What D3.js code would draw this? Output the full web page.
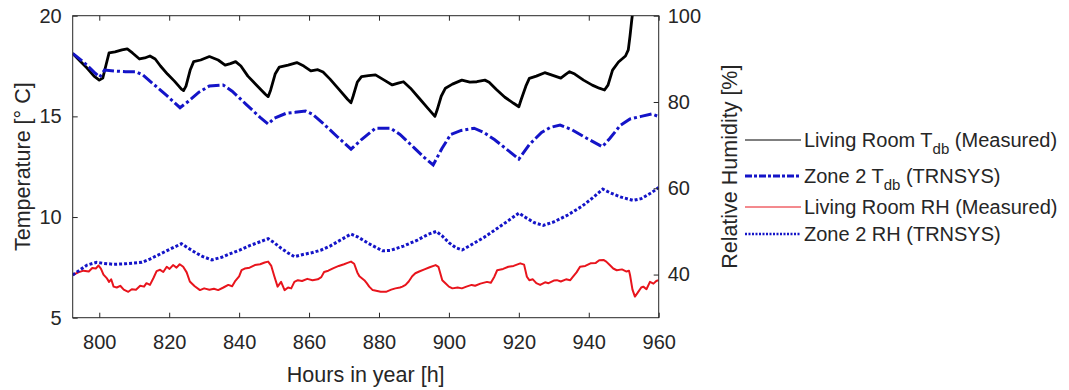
<!DOCTYPE html>
<html>
<head>
<meta charset="utf-8">
<script src="https://cdn.jsdelivr.net/npm/d3@7"></script>
<style>
  body { margin: 0; background: #fff; }
  text { font-family: "Liberation Sans", Arial, sans-serif; fill: #262626; }
</style>
</head>
<body>
<script>
// hours in year / value pairs
const livingRoomT = [
  [792.4,18.13],[794.5,17.75],[796.5,17.4],[798.5,17.0],[800,16.8],[801,16.9],[802,17.6],[802.8,18.15],
  [804.5,18.2],[806.5,18.3],[808,18.35],[809.5,18.15],[811.5,17.85],[813,17.9],[814.5,18.0],[816,17.85],
  [817.5,17.5],[819.5,17.1],[821.5,16.75],[823.5,16.35],[824.1,16.28],[824.8,16.5],[826,17.3],[827,17.72],
  [829,17.8],[831.5,17.97],[834,17.8],[836,17.55],[837.5,17.62],[839,17.72],[840.5,17.5],[842.5,17.0],
  [845,16.55],[847.5,16.1],[848.3,15.98],[849,16.3],[850.3,17.1],[851.5,17.45],[854,17.55],[856.5,17.67],
  [858.5,17.5],[860.5,17.26],[862.5,17.32],[864,17.2],[866,16.85],[868.5,16.35],[871,15.85],[872,15.68],
  [872.6,16.0],[873.8,16.7],[875,16.97],[877,17.02],[879,17.06],[881.5,16.8],[883.8,16.56],[885.5,16.65],
  [887,16.72],[889,16.4],[891.5,15.9],[894,15.4],[896,15.0],[896.6,15.3],[897.8,16.0],[899,16.4],
  [901,16.6],[903.7,16.8],[906,16.7],[908,16.72],[910.3,16.8],[911.5,16.7],[913.5,16.35],[916,15.95],
  [918.5,15.65],[920,15.48],[920.6,15.8],[922,16.5],[923,16.89],[925,17.0],[927.4,17.17],[929.5,17.05],
  [932,16.9],[933.5,17.1],[934.5,17.22],[936,17.1],[938.5,16.8],[941,16.55],[943,16.4],[944.5,16.31],
  [945.5,16.55],[946.8,17.3],[948.5,17.7],[950.5,18.0],[951.3,18.3],[951.8,19.0],[952.3,19.8],[952.8,20.5],
  [953.2,21.5]
];

const zone2T = [
  [792.4,18.13],[795.5,17.7],[798.5,17.2],[800.1,16.95],[801.5,17.3],[804.5,17.25],[807.5,17.22],[810.5,17.22],
  [812.5,17.05],[815.5,16.6],[819.5,16.0],[823.1,15.43],[825.5,15.75],[828.5,16.2],[831.5,16.51],[835.4,16.56],
  [838,16.25],[842,15.6],[846,14.95],[848.3,14.62],[850,14.9],[853.4,15.15],[856,15.2],[859,15.27],
  [861,15.1],[864,14.65],[868,14.0],[872,13.37],[875,13.85],[879,14.41],[883.3,14.41],[886,14.1],
  [890,13.45],[893,12.95],[895.5,12.59],[898,13.4],[900.5,14.1],[903.5,14.3],[907.2,14.41],[910,14.2],
  [913,13.85],[917,13.3],[920,12.88],[923,13.6],[926.5,14.2],[929,14.45],[931.8,14.57],[935,14.35],
  [939,13.95],[943.9,13.49],[946,13.9],[949,14.55],[951.8,14.87],[955,15.0],[958,15.12],[960,14.99]
];

const livingRoomRH = [
  [792.4,39.9],[794,40.5],[795.5,40.9],[797,40.7],[798,41.5],[799,41.4],[799.8,42.1],[800.5,41.3],
  [801.2,40.0],[802.2,39.1],[802.8,38.3],[803.4,38.9],[804.1,37.2],[805,37.0],[806,37.4],[807,36.5],
  [808.3,36.0],[809.3,36.6],[810.5,36.5],[811.7,37.4],[812.8,37.2],[813.5,38.0],[814.5,37.6],[815.5,39.2],
  [816.4,40.8],[817.4,41.1],[818.3,40.6],[819.3,41.8],[820.1,41.3],[821.1,42.2],[822.1,41.6],[823,42.4],
  [824,41.8],[825,40.5],[825.9,38.4],[826.4,38.0],[827.3,37.3],[828.8,36.4],[830,36.8],[831.5,36.5],
  [832.8,36.7],[834,36.4],[835.5,37.0],[836.9,37.6],[838,37.3],[838.8,38.4],[840,39.6],[840.7,41.0],
  [841.6,41.4],[843,41.6],[844.5,42.2],[846,42.4],[847.3,42.8],[848.3,43.0],[849.2,42.0],[850,39.8],
  [851,37.2],[852,38.3],[853,36.4],[854,37.0],[854.9,36.8],[855.8,38.3],[856.8,38.7],[858,38.5],
  [859.5,39.0],[861,38.7],[862.5,38.9],[863.5,39.4],[864.3,40.6],[865.5,40.9],[867,41.5],[868.5,42.0],
  [870,42.4],[871,42.7],[872,43.0],[872.9,42.5],[873.8,40.5],[874.4,39.6],[875.8,38.7],[876.5,38.0],
  [877.2,37.2],[878.2,36.4],[879.5,36.2],[880.5,36.0],[882,36.0],[883.5,36.5],[884.7,36.8],[886,37.0],
  [886.7,37.2],[887.6,37.6],[888.5,38.4],[889.5,39.6],[890.4,40.3],[891.5,40.7],[893,41.2],[894.5,41.7],
  [896.2,42.2],[897,41.8],[898.1,38.7],[899,38.0],[900,37.2],[901,36.8],[902.5,37.0],[903.7,36.8],
  [905,37.2],[906.5,37.6],[907.5,37.4],[909,37.9],[910.9,38.3],[912,38.1],[913,39.5],[913.8,41.0],
  [915.5,41.3],[917,41.8],[918.5,42.0],[920.4,42.6],[921.5,42.3],[922.3,39.5],[923,38.7],[924,38.9],
  [925,38.0],[926.1,37.6],[927.5,38.2],[928.5,38.0],[930,38.6],[930.9,38.7],[932,38.4],[933.5,38.9],
  [934.7,38.7],[935.5,39.5],[936.5,40.5],[937.5,41.8],[939,42.0],[940.5,42.6],[942,42.7],[943,43.3],
  [944.2,43.4],[945,43.0],[946,42.2],[947,41.4],[948,41.0],[949.5,41.2],[950.8,40.7],[951.5,40.9],
  [951.8,39.9],[952.5,36.5],[953.2,34.9],[954,35.8],[955,37.0],[955.6,37.2],[956.5,36.6],[957.5,38.3],
  [958.5,37.9],[959.3,38.5],[960,38.7]
];

const zone2RH = [
  [792.4,39.9],[794.5,41.1],[796.5,42.2],[799.3,42.84],[801.2,42.6],[804.1,42.38],[807.5,42.5],[812.2,42.84],
  [814.5,43.6],[817.5,44.8],[820.5,46.0],[823.5,47.15],[825.5,46.1],[827.5,45.1],[829.5,44.2],[832.2,43.4],
  [835,44.0],[837,44.7],[840,45.6],[843,46.7],[846,47.6],[848.3,48.3],[850,47.4],[852,46.1],
  [854,45.0],[855.8,44.14],[858,44.6],[861,45.1],[863.5,45.7],[866,46.6],[869,48.0],[872,49.4],
  [874,48.7],[877,47.2],[881,45.5],[883.3,45.6],[887,46.6],[891,48.0],[894,49.3],[896.4,50.0],
  [898,49.0],[900,47.4],[902,46.2],[903.8,45.7],[906,46.7],[910,48.6],[914,50.8],[917,52.5],
  [920,54.25],[922,53.2],[924.5,52.0],[927,51.4],[930,52.2],[934,53.8],[938,55.8],[941,57.7],
  [944,59.8],[946,59.0],[949,58.0],[952.7,57.2],[955,57.6],[958,59.0],[960,60.2]
];

const xTicks = [800, 820, 840, 860, 880, 900, 920, 940, 960];
const tTicks = [5, 10, 15, 20];
const rhTicks = [40, 60, 80, 100];

const legendItems = [
  { label: ["Living Room T", "db", " (Measured)"], color: "#000000", width: 1, dash: null },
  { label: ["Zone 2 T", "db", " (TRNSYS)"], color: "#1414c8", width: 3, dash: "7,2,3,2" },
  { label: ["Living Room RH (Measured)"], color: "#e8141c", width: 1, dash: null },
  { label: ["Zone 2 RH (TRNSYS)"], color: "#1414c8", width: 2.5, dash: "2,1.5" }
];

const w = 1069;
const h = 390;
const mLeft = 72.7, mRight = 658.7, mTop = 15.7, mBottom = 317.7;

const x = d3.scaleLinear().domain([792.4, 960]).range([mLeft, mRight]);
const yT = d3.scaleLinear().domain([5, 20]).range([mBottom, mTop]);
const yRH = d3.scaleLinear().domain([30, 100]).range([mBottom, mTop]);

const svg = d3.select("body")
  .append("svg")
  .attr("width", w)
  .attr("height", h);

svg.append("rect").attr("width", w).attr("height", h).attr("fill", "#fff");

svg.append("clipPath")
  .attr("id", "plot")
  .append("rect")
  .attr("x", mLeft).attr("y", mTop)
  .attr("width", mRight - mLeft).attr("height", mBottom - mTop);

const plot = svg.append("g").attr("clip-path", "url(#plot)");

const lineT = d3.line().x(d => x(d[0])).y(d => yT(d[1]));
const lineRH = d3.line().x(d => x(d[0])).y(d => yRH(d[1]));

plot.append("path")
  .attr("d", lineT(livingRoomT))
  .attr("fill", "none").attr("stroke", "#000").attr("stroke-width", 2.8)
  .attr("stroke-linejoin", "round");

plot.append("path")
  .attr("d", lineT(zone2T))
  .attr("fill", "none").attr("stroke", "#1414c8").attr("stroke-width", 3)
  .attr("stroke-dasharray", "12,3,3,3");

plot.append("path")
  .attr("d", lineRH(livingRoomRH))
  .attr("fill", "none").attr("stroke", "#e8141c").attr("stroke-width", 2)
  .attr("stroke-linejoin", "round");

plot.append("path")
  .attr("d", lineRH(zone2RH))
  .attr("fill", "none").attr("stroke", "#1414c8").attr("stroke-width", 3)
  .attr("stroke-dasharray", "3,2");

// axes, MATLAB style: ticks pointing inside
const axisColor = "#262626";
const tickLen = 5;

const bottomAxis = svg.append("g")
  .attr("transform", `translate(0,${mBottom})`)
  .call(d3.axisBottom(x).tickValues(xTicks).tickSizeInner(-tickLen).tickSizeOuter(0).tickPadding(17));
const topAxis = svg.append("g")
  .attr("transform", `translate(0,${mTop})`)
  .call(d3.axisTop(x).tickValues(xTicks).tickSizeInner(-tickLen).tickSizeOuter(0).tickFormat(""));
const leftAxis = svg.append("g")
  .attr("transform", `translate(${mLeft},0)`)
  .call(d3.axisLeft(yT).tickValues(tTicks).tickSizeInner(-tickLen).tickSizeOuter(0).tickPadding(11));
const rightAxis = svg.append("g")
  .attr("transform", `translate(${mRight},0)`)
  .call(d3.axisRight(yRH).tickValues(rhTicks).tickSizeInner(-tickLen).tickSizeOuter(0).tickPadding(9));

[bottomAxis, topAxis, leftAxis, rightAxis].forEach(g => {
  g.select(".domain").remove();
  g.selectAll(".tick line").attr("stroke", axisColor);
  g.selectAll(".tick text")
    .attr("fill", axisColor)
    .style("font-size", "20px")
    .style("font-family", "\"Liberation Sans\", Arial, sans-serif");
});

svg.append("rect")
  .attr("x", mLeft).attr("y", mTop)
  .attr("width", mRight - mLeft).attr("height", mBottom - mTop)
  .attr("fill", "none").attr("stroke", axisColor).attr("stroke-width", 1);

svg.append("text")
  .attr("x", (mLeft + mRight) / 2).attr("y", 382)
  .attr("text-anchor", "middle")
  .style("font-size", "21.5px")
  .text("Hours in year [h]");

svg.append("text")
  .attr("transform", `translate(30,${(mTop + mBottom) / 2}) rotate(-90)`)
  .attr("text-anchor", "middle")
  .style("font-size", "21.5px")
  .text("Temperature [° C]");

svg.append("text")
  .attr("transform", `translate(737,${(mTop + mBottom) / 2}) rotate(-90)`)
  .attr("text-anchor", "middle")
  .style("font-size", "21.5px")
  .text("Relative Humidity [%]");

// legend
const legendRows = [140, 176, 207, 234];
const legend = svg.append("g");
legendItems.forEach((item, i) => {
  const yy = legendRows[i];
  legend.append("line")
    .attr("x1", 745).attr("x2", 801).attr("y1", yy).attr("y2", yy)
    .attr("stroke", item.color).attr("stroke-width", item.width)
    .attr("stroke-dasharray", item.dash);
  const t = legend.append("text")
    .attr("x", 804).attr("y", yy + 7)
    .style("font-size", "20px");
  t.append("tspan").text(item.label[0]);
  if (item.label.length > 1) {
    t.append("tspan").attr("dy", 7).style("font-size", "15px").text(item.label[1]);
    t.append("tspan").attr("dy", -7).text(item.label[2]);
  }
});
</script>
</body>
</html>
